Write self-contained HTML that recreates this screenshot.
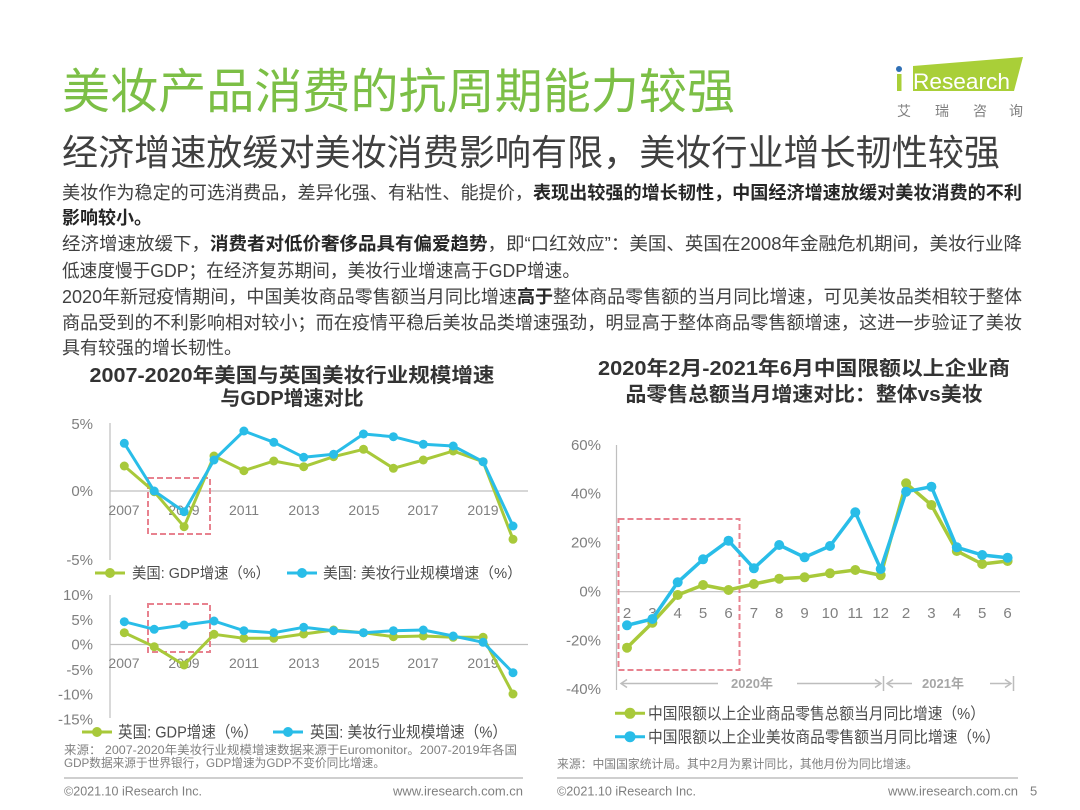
<!DOCTYPE html>
<html><head><meta charset="utf-8">
<style>
html,body{margin:0;padding:0;background:#fff;}
svg{display:block;}
text{font-family:"Liberation Sans","Noto Sans CJK SC",sans-serif;}
</style></head>
<body>
<svg width="1080" height="810" viewBox="0 0 1080 810" xmlns="http://www.w3.org/2000/svg">
<rect width="1080" height="810" fill="#fff"/>

<!-- Title -->
<text x="62" y="108" font-size="48" fill="#7cbf46" textLength="673" lengthAdjust="spacingAndGlyphs">美妆产品消费的抗周期能力较强</text>
<text x="62" y="165" font-size="36" fill="#404040" textLength="938" lengthAdjust="spacingAndGlyphs">经济增速放缓对美妆消费影响有限，美妆行业增长韧性较强</text>

<!-- Logo -->
<polygon points="913,66 1023,57 1014,91 913,91" fill="#a9cf38"/>
<circle cx="899" cy="69" r="3" fill="#2f6fb5"/>
<rect x="897" y="74" width="4.5" height="17" fill="#a9cf38"/>
<text x="913" y="89" font-size="22" fill="#fff" textLength="97" lengthAdjust="spacingAndGlyphs">Research</text>
<g font-size="14" fill="#808080">
<text x="897" y="116">艾</text><text x="935" y="116">瑞</text><text x="973" y="116">咨</text><text x="1009" y="116">询</text>
</g>

<!-- Body text -->
<g font-size="18" fill="#404040">
<text x="62" y="199" textLength="960" lengthAdjust="spacingAndGlyphs">美妆作为稳定的可选消费品，差异化强、有粘性、能提价，<tspan font-weight="700" fill="#262626">表现出较强的增长韧性，中国经济增速放缓对美妆消费的不利</tspan></text>
<text x="62" y="224" font-weight="700" fill="#262626">影响较小。</text>
<text x="62" y="250" textLength="960" lengthAdjust="spacingAndGlyphs">经济增速放缓下，<tspan font-weight="700" fill="#262626">消费者对低价奢侈品具有偏爱趋势</tspan>，即“口红效应”：美国、英国在2008年金融危机期间，美妆行业降</text>
<text x="62" y="277" textLength="518" lengthAdjust="spacingAndGlyphs">低速度慢于GDP；在经济复苏期间，美妆行业增速高于GDP增速。</text>
<text x="62" y="303" textLength="960" lengthAdjust="spacingAndGlyphs">2020年新冠疫情期间，中国美妆商品零售额当月同比增速<tspan font-weight="700" fill="#262626">高于</tspan>整体商品零售额的当月同比增速，可见美妆品类相较于整体</text>
<text x="62" y="329" textLength="960" lengthAdjust="spacingAndGlyphs">商品受到的不利影响相对较小；而在疫情平稳后美妆品类增速强劲，明显高于整体商品零售额增速，这进一步验证了美妆</text>
<text x="62" y="354">具有较强的增长韧性。</text>
</g>

<!-- Chart titles -->
<g font-size="20" font-weight="700" fill="#333" text-anchor="middle">
<text x="292" y="382" textLength="405" lengthAdjust="spacingAndGlyphs">2007-2020年美国与英国美妆行业规模增速</text>
<text x="292" y="405">与GDP增速对比</text>
<text x="804" y="375" textLength="412" lengthAdjust="spacingAndGlyphs">2020年2月-2021年6月中国限额以上企业商</text>
<text x="804" y="401" textLength="357" lengthAdjust="spacingAndGlyphs">品零售总额当月增速对比：整体vs美妆</text>
</g>

<!-- ===== Left top chart (US) ===== -->
<g stroke="#bfbfbf" stroke-width="1.2">
<line x1="110" y1="423" x2="110" y2="560"/>
<line x1="110" y1="491" x2="528" y2="491"/>
</g>
<g font-size="15" fill="#7f7f7f" text-anchor="end">
<text x="93" y="429">5%</text><text x="93" y="496">0%</text><text x="93" y="565">-5%</text>
</g>
<g font-size="14" fill="#808080" text-anchor="middle">
<text x="124" y="515">2007</text><text x="184" y="515">2009</text><text x="244" y="515">2011</text><text x="304" y="515">2013</text><text x="364" y="515">2015</text><text x="423" y="515">2017</text><text x="483" y="515">2019</text>
</g>
<rect x="148" y="478" width="62" height="56" fill="none" stroke="#e8828f" stroke-width="2" stroke-dasharray="6,3"/>
<polyline fill="none" stroke="#a8c93a" stroke-width="3" stroke-linejoin="round" points="124.3,466 154.2,491.7 184.1,526.7 214,456 243.9,470.7 273.8,461 303.7,466.7 333.6,456.7 363.5,449.3 393.4,468.3 423.3,460 453.2,451 483.1,461.7 513,539.3"/>
<g fill="#a8c93a">
<circle cx="124.3" cy="466" r="4.5"/><circle cx="154.2" cy="491.7" r="4.5"/><circle cx="184.1" cy="526.7" r="4.5"/><circle cx="214" cy="456" r="4.5"/><circle cx="243.9" cy="470.7" r="4.5"/><circle cx="273.8" cy="461" r="4.5"/><circle cx="303.7" cy="466.7" r="4.5"/><circle cx="333.6" cy="456.7" r="4.5"/><circle cx="363.5" cy="449.3" r="4.5"/><circle cx="393.4" cy="468.3" r="4.5"/><circle cx="423.3" cy="460" r="4.5"/><circle cx="453.2" cy="451" r="4.5"/><circle cx="483.1" cy="461.7" r="4.5"/><circle cx="513" cy="539.3" r="4.5"/>
</g>
<polyline fill="none" stroke="#29bde8" stroke-width="3" stroke-linejoin="round" points="124.3,443.3 154.2,491 184.1,511.7 214,460 243.9,431 273.8,442.3 303.7,457.3 333.6,454.3 363.5,434 393.4,436.7 423.3,444.3 453.2,446 483.1,461.7 513,526"/>
<g fill="#29bde8">
<circle cx="124.3" cy="443.3" r="4.5"/><circle cx="154.2" cy="491" r="4.5"/><circle cx="184.1" cy="511.7" r="4.5"/><circle cx="214" cy="460" r="4.5"/><circle cx="243.9" cy="431" r="4.5"/><circle cx="273.8" cy="442.3" r="4.5"/><circle cx="303.7" cy="457.3" r="4.5"/><circle cx="333.6" cy="454.3" r="4.5"/><circle cx="363.5" cy="434" r="4.5"/><circle cx="393.4" cy="436.7" r="4.5"/><circle cx="423.3" cy="444.3" r="4.5"/><circle cx="453.2" cy="446" r="4.5"/><circle cx="483.1" cy="461.7" r="4.5"/><circle cx="513" cy="526" r="4.5"/>
</g>
<!-- legend top -->
<line x1="95" y1="573" x2="125" y2="573" stroke="#a8c93a" stroke-width="3"/><circle cx="110" cy="573" r="5" fill="#a8c93a"/>
<text x="132" y="578" font-size="15" fill="#4d4d4d" textLength="138" lengthAdjust="spacingAndGlyphs">美国: GDP增速（%）</text>
<line x1="287" y1="573" x2="317" y2="573" stroke="#29bde8" stroke-width="3"/><circle cx="302" cy="573" r="5" fill="#29bde8"/>
<text x="323" y="578" font-size="15" fill="#4d4d4d" textLength="199" lengthAdjust="spacingAndGlyphs">美国: 美妆行业规模增速（%）</text>

<!-- ===== Left bottom chart (UK) ===== -->
<g stroke="#bfbfbf" stroke-width="1.2">
<line x1="110" y1="595" x2="110" y2="718"/>
<line x1="110" y1="644.5" x2="528" y2="644.5"/>
</g>
<g font-size="15" fill="#7f7f7f" text-anchor="end">
<text x="93" y="600">10%</text><text x="93" y="625">5%</text><text x="93" y="649.5">0%</text><text x="93" y="675">-5%</text><text x="93" y="699.5">-10%</text><text x="93" y="724.5">-15%</text>
</g>
<g font-size="14" fill="#808080" text-anchor="middle">
<text x="124" y="668">2007</text><text x="184" y="668">2009</text><text x="244" y="668">2011</text><text x="304" y="668">2013</text><text x="364" y="668">2015</text><text x="423" y="668">2017</text><text x="483" y="668">2019</text>
</g>
<rect x="148" y="604" width="62" height="48" fill="none" stroke="#e8828f" stroke-width="2" stroke-dasharray="6,3"/>
<polyline fill="none" stroke="#a8c93a" stroke-width="3" stroke-linejoin="round" points="124.3,632.7 154.2,646.7 184.1,665 214,634.3 243.9,638.3 273.8,638.3 303.7,634 333.6,630 363.5,632.7 393.4,636.7 423.3,636 453.2,637.3 483.1,637.3 513,694"/>
<g fill="#a8c93a">
<circle cx="124.3" cy="632.7" r="4.5"/><circle cx="154.2" cy="646.7" r="4.5"/><circle cx="184.1" cy="665" r="4.5"/><circle cx="214" cy="634.3" r="4.5"/><circle cx="243.9" cy="638.3" r="4.5"/><circle cx="273.8" cy="638.3" r="4.5"/><circle cx="303.7" cy="634" r="4.5"/><circle cx="333.6" cy="630" r="4.5"/><circle cx="363.5" cy="632.7" r="4.5"/><circle cx="393.4" cy="636.7" r="4.5"/><circle cx="423.3" cy="636" r="4.5"/><circle cx="453.2" cy="637.3" r="4.5"/><circle cx="483.1" cy="637.3" r="4.5"/><circle cx="513" cy="694" r="4.5"/>
</g>
<polyline fill="none" stroke="#29bde8" stroke-width="3" stroke-linejoin="round" points="124.3,621.7 154.2,629.3 184.1,625 214,621 243.9,630.7 273.8,632.7 303.7,627.3 333.6,630.7 363.5,632.7 393.4,630.7 423.3,630 453.2,636 483.1,642.3 513,672.7"/>
<g fill="#29bde8">
<circle cx="124.3" cy="621.7" r="4.5"/><circle cx="154.2" cy="629.3" r="4.5"/><circle cx="184.1" cy="625" r="4.5"/><circle cx="214" cy="621" r="4.5"/><circle cx="243.9" cy="630.7" r="4.5"/><circle cx="273.8" cy="632.7" r="4.5"/><circle cx="303.7" cy="627.3" r="4.5"/><circle cx="333.6" cy="630.7" r="4.5"/><circle cx="363.5" cy="632.7" r="4.5"/><circle cx="393.4" cy="630.7" r="4.5"/><circle cx="423.3" cy="630" r="4.5"/><circle cx="453.2" cy="636" r="4.5"/><circle cx="483.1" cy="642.3" r="4.5"/><circle cx="513" cy="672.7" r="4.5"/>
</g>
<!-- legend bottom -->
<line x1="82" y1="732" x2="112" y2="732" stroke="#a8c93a" stroke-width="3"/><circle cx="97" cy="732" r="5" fill="#a8c93a"/>
<text x="118" y="737.5" font-size="16" fill="#4d4d4d" textLength="140" lengthAdjust="spacingAndGlyphs">英国: GDP增速（%）</text>
<line x1="273" y1="732" x2="303" y2="732" stroke="#29bde8" stroke-width="3"/><circle cx="288" cy="732" r="5" fill="#29bde8"/>
<text x="310" y="737.5" font-size="16" fill="#4d4d4d" textLength="197" lengthAdjust="spacingAndGlyphs">英国: 美妆行业规模增速（%）</text>

<!-- left source + footer -->
<g font-size="12" fill="#808080">
<text x="64" y="754" textLength="453" lengthAdjust="spacingAndGlyphs">来源： 2007-2020年美妆行业规模增速数据来源于Euromonitor。2007-2019年各国</text>
<text x="64" y="767" textLength="321" lengthAdjust="spacingAndGlyphs">GDP数据来源于世界银行，GDP增速为GDP不变价同比增速。</text>
</g>
<line x1="64" y1="778" x2="523" y2="778" stroke="#bfbfbf" stroke-width="1.5"/>
<g font-size="13" fill="#7f7f7f">
<text x="64" y="795.5" textLength="138" lengthAdjust="spacingAndGlyphs">©2021.10 iResearch Inc.</text>
<text x="523" y="795.5" text-anchor="end">www.iresearch.com.cn</text>
</g>

<!-- ===== Right chart ===== -->
<g stroke="#bfbfbf" stroke-width="1.2">
<line x1="616.5" y1="445" x2="616.5" y2="690"/>
<line x1="616.5" y1="591.7" x2="1020" y2="591.7"/>
</g>
<g font-size="15" fill="#7f7f7f" text-anchor="end">
<text x="601" y="450">60%</text><text x="601" y="498.3">40%</text><text x="601" y="547.7">20%</text><text x="601" y="596.7">0%</text><text x="601" y="645.5">-20%</text><text x="601" y="694">-40%</text>
</g>
<g font-size="15" fill="#808080" text-anchor="middle">
<text x="627" y="618">2</text><text x="652.4" y="618">3</text><text x="677.7" y="618">4</text><text x="703.1" y="618">5</text><text x="728.5" y="618">6</text><text x="753.9" y="618">7</text><text x="779.2" y="618">8</text><text x="804.6" y="618">9</text><text x="830" y="618">10</text><text x="855.3" y="618">11</text><text x="880.7" y="618">12</text><text x="906.1" y="618">2</text><text x="931.4" y="618">3</text><text x="956.8" y="618">4</text><text x="982.2" y="618">5</text><text x="1007.6" y="618">6</text>
</g>
<rect x="618.5" y="519" width="121" height="151" fill="none" stroke="#e8828f" stroke-width="2" stroke-dasharray="6,3"/>
<polyline fill="none" stroke="#a8c93a" stroke-width="3.5" stroke-linejoin="round" points="627,647.7 652.4,622.7 677.7,595 703.1,585 728.5,590 753.9,584 779.2,578.7 804.6,577.3 830,573.3 855.3,570 880.7,575.3 906.1,483.3 931.4,505 956.8,551 982.2,564 1007.6,561"/>
<g fill="#a8c93a">
<circle cx="627" cy="647.7" r="5"/><circle cx="652.4" cy="622.7" r="5"/><circle cx="677.7" cy="595" r="5"/><circle cx="703.1" cy="585" r="5"/><circle cx="728.5" cy="590" r="5"/><circle cx="753.9" cy="584" r="5"/><circle cx="779.2" cy="578.7" r="5"/><circle cx="804.6" cy="577.3" r="5"/><circle cx="830" cy="573.3" r="5"/><circle cx="855.3" cy="570" r="5"/><circle cx="880.7" cy="575.3" r="5"/><circle cx="906.1" cy="483.3" r="5"/><circle cx="931.4" cy="505" r="5"/><circle cx="956.8" cy="551" r="5"/><circle cx="982.2" cy="564" r="5"/><circle cx="1007.6" cy="561" r="5"/>
</g>
<polyline fill="none" stroke="#29bde8" stroke-width="3.5" stroke-linejoin="round" points="627,625.3 652.4,619 677.7,582.3 703.1,559.3 728.5,540.7 753.9,568.3 779.2,545 804.6,557.3 830,546 855.3,512.3 880.7,569 906.1,491.7 931.4,486.7 956.8,547.3 982.2,555 1007.6,557.7"/>
<g fill="#29bde8">
<circle cx="627" cy="625.3" r="5"/><circle cx="652.4" cy="619" r="5"/><circle cx="677.7" cy="582.3" r="5"/><circle cx="703.1" cy="559.3" r="5"/><circle cx="728.5" cy="540.7" r="5"/><circle cx="753.9" cy="568.3" r="5"/><circle cx="779.2" cy="545" r="5"/><circle cx="804.6" cy="557.3" r="5"/><circle cx="830" cy="546" r="5"/><circle cx="855.3" cy="512.3" r="5"/><circle cx="880.7" cy="569" r="5"/><circle cx="906.1" cy="491.7" r="5"/><circle cx="931.4" cy="486.7" r="5"/><circle cx="956.8" cy="547.3" r="5"/><circle cx="982.2" cy="555" r="5"/><circle cx="1007.6" cy="557.7" r="5"/>
</g>

<!-- year arrows -->
<g stroke="#bdbdbd" stroke-width="1.5" fill="none">
<line x1="621" y1="683.5" x2="718" y2="683.5"/>
<polyline points="627,679.5 621,683.5 627,687.5"/>
<line x1="797" y1="683.5" x2="881" y2="683.5"/>
<polyline points="875,679.5 881,683.5 875,687.5"/>
<line x1="883.5" y1="676" x2="883.5" y2="691"/>
<line x1="887" y1="683.5" x2="912" y2="683.5"/>
<polyline points="893,679.5 887,683.5 893,687.5"/>
<line x1="990" y1="683.5" x2="1011" y2="683.5"/>
<polyline points="1005,679.5 1011,683.5 1005,687.5"/>
<line x1="1013.5" y1="676" x2="1013.5" y2="691"/>
</g>
<g font-size="13" font-weight="700" fill="#a6a6a6" text-anchor="middle">
<text x="752" y="688">2020年</text>
<text x="943" y="688">2021年</text>
</g>

<!-- right legend -->
<line x1="615" y1="713.3" x2="645" y2="713.3" stroke="#a8c93a" stroke-width="3"/><circle cx="630" cy="713.3" r="5.5" fill="#a8c93a"/>
<text x="648" y="719" font-size="16" fill="#4d4d4d" textLength="337" lengthAdjust="spacingAndGlyphs">中国限额以上企业商品零售总额当月同比增速（%）</text>
<line x1="615" y1="736.7" x2="645" y2="736.7" stroke="#29bde8" stroke-width="3"/><circle cx="630" cy="736.7" r="5.5" fill="#29bde8"/>
<text x="648" y="742.5" font-size="16" fill="#4d4d4d" textLength="352" lengthAdjust="spacingAndGlyphs">中国限额以上企业美妆商品零售额当月同比增速（%）</text>

<!-- right source + footer -->
<text x="557" y="768" font-size="12" fill="#808080" textLength="361" lengthAdjust="spacingAndGlyphs">来源：中国国家统计局。其中2月为累计同比，其他月份为同比增速。</text>
<line x1="557" y1="778" x2="1018" y2="778" stroke="#bfbfbf" stroke-width="1.5"/>
<g font-size="13" fill="#7f7f7f">
<text x="557" y="795.5" textLength="139" lengthAdjust="spacingAndGlyphs">©2021.10 iResearch Inc.</text>
<text x="1018" y="795.5" text-anchor="end">www.iresearch.com.cn</text>
<text x="1030" y="795.5">5</text>
</g>
</svg>
</body></html>
